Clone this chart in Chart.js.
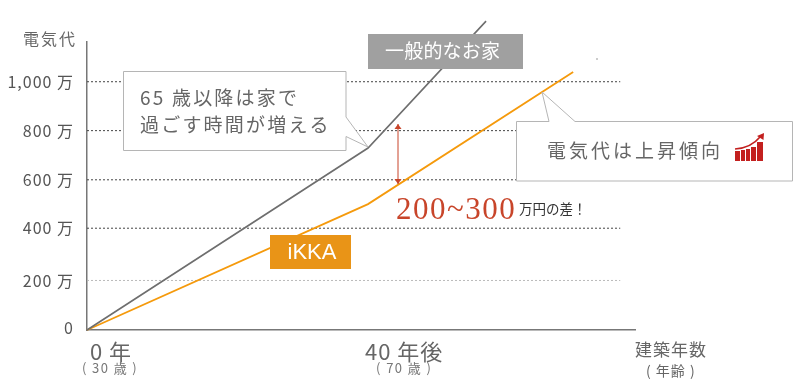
<!DOCTYPE html>
<html>
<head>
<meta charset="utf-8">
<style>
  body { margin: 0; background: #fff; }
  canvas { display: block; }
</style>
<script src="https://cdn.jsdelivr.net/npm/chart.js@4"></script>
</head>
<body>
<canvas id="myChart" width="800" height="390"></canvas>
<script>
const FONT = '"Noto Sans CJK JP", "Noto Sans", sans-serif';

// values (x = years, y = 万円)
const generalYears = [0, 40, 56.8];
const generalCost = [0, 733, 1244];
const ikkaYears = [0, 40, 69.2];
const ikkaCost = [0, 507, 1039];

// the dotted lines in the picture are not quite evenly spaced
const gridLevels = [1000, 803, 605, 410, 199.5];
const gridColors = ['#444', '#444', '#444', '#444', '#bbb'];
const gridEnd = 75.9;

const yTickLabels = ['1,000 万', '800 万', '600 万', '400 万', '200 万', '0'];
const zeroLabelLevel = 10; // the 0 sits a little above the baseline
const xTicks = [0, 40];
const xTickLabels = [' 0 年', '40 年後'];
const xAgeLabels = ['( 30 歳 )', '( 70 歳 )'];

function text(ctx, str, x, y, size, color, spacing, family, align) {
  ctx.font = size + 'px ' + (family || FONT);
  ctx.fillStyle = color;
  ctx.letterSpacing = (spacing || 0) + 'px';
  ctx.textAlign = align || 'left';
  ctx.textBaseline = 'middle';
  ctx.fillText(str, x, y);
  ctx.letterSpacing = '0px';
}

function callout(ctx, l, t, r, b, tail) {
  ctx.beginPath();
  ctx.moveTo(l, t);
  if (tail.side === 'top') {
    ctx.lineTo(tail.a, t);
    ctx.lineTo(tail.x, tail.y);
    ctx.lineTo(tail.b, t);
  }
  ctx.lineTo(r, t);
  if (tail.side === 'right') {
    ctx.lineTo(r, tail.a);
    ctx.lineTo(tail.x, tail.y);
    ctx.lineTo(r, tail.b);
  }
  ctx.lineTo(r, b);
  ctx.lineTo(l, b);
  ctx.closePath();
  ctx.fillStyle = '#fff';
  ctx.fill();
  ctx.strokeStyle = '#b5b5b5';
  ctx.lineWidth = 1;
  ctx.stroke();
}

function riseIcon(ctx) {
  ctx.fillStyle = '#c3201f';
  const bars = [[735, 151, 5], [741, 150, 4], [746, 149, 4], [751, 147, 5], [757, 142, 6]];
  bars.forEach(b => ctx.fillRect(b[0], b[1], b[2], 161 - b[1]));
  ctx.strokeStyle = '#c3201f';
  ctx.lineWidth = 1.6;
  ctx.beginPath();
  ctx.moveTo(735, 149);
  ctx.quadraticCurveTo(751, 148, 760, 137);
  ctx.stroke();
  ctx.beginPath();
  ctx.moveTo(764, 133);
  ctx.lineTo(763.5, 140);
  ctx.lineTo(757, 136);
  ctx.closePath();
  ctx.fill();
}

// callouts and labels that sit on top of the lines
const notes = {
  id: 'notes',
  beforeDraw(chart) {
    chart.ctx.letterSpacing = '1px';
  },
  afterDraw(chart) {
    const ctx = chart.ctx;
    const x = chart.scales.x, y = chart.scales.y;
    ctx.save();

    text(ctx, '電気代', 23, 39, 16, '#666', 2);

    // 65 歳 callout points at the knee of the grey line
    callout(ctx, 123.5, 71.5, 346, 150.5, {
      side: 'right', a: 117, b: 136.5,
      x: x.getPixelForValue(generalYears[1]), y: y.getPixelForValue(generalCost[1]) - 1
    });
    text(ctx, '65 歳以降は家で', 140, 98, 19, '#666', 2.2);
    text(ctx, '過ごす時間が増える', 140, 125, 19, '#666', 2.2);

    // grey label
    ctx.fillStyle = '#a0a0a0';
    ctx.fillRect(368, 34, 155, 35);
    text(ctx, '一般的なお家', 385, 51, 19, '#fff', 0.2);

    // orange label
    ctx.fillStyle = '#e99417';
    ctx.fillRect(270, 235, 81, 34);
    text(ctx, 'iKKA', 312, 253, 22, '#fff', 0, '"Liberation Sans", Arial, sans-serif', 'center');

    // rising costs callout
    callout(ctx, 516.5, 121.5, 792.5, 181, { side: 'top', a: 549, b: 575, x: 542, y: 92 });
    text(ctx, '電気代は上昇傾向', 547, 151, 19, '#666', 3);
    riseIcon(ctx);

    // gap arrow between the two lines
    const ax = 398, top = 124, bottom = 184;
    ctx.strokeStyle = '#c8452a';
    ctx.fillStyle = '#c8452a';
    ctx.lineWidth = 1;
    ctx.beginPath();
    ctx.moveTo(ax, top);
    ctx.lineTo(ax, bottom);
    ctx.stroke();
    [[top, 1], [bottom, -1]].forEach(h => {
      ctx.beginPath();
      ctx.moveTo(ax, h[0]);
      ctx.lineTo(ax - 3.5, h[0] + h[1] * 5);
      ctx.lineTo(ax + 3.5, h[0] + h[1] * 5);
      ctx.closePath();
      ctx.fill();
    });

    text(ctx, '200~300', 396, 211, 31, '#c8452a', 1.5, '"Liberation Serif", serif');
    text(ctx, '万円の差！', 519, 209, 13.5, '#333', 0);

    // ages under the year ticks
    xAgeLabels.forEach((label, i) => {
      const left = i === 0 ? -5 : 8;
      text(ctx, label, x.getPixelForValue(xTicks[i]) + left, 368, 13, '#777', 1.4);
    });
    text(ctx, '建築年数', 635, 350, 17, '#666', 1);
    text(ctx, '( 年齢 )', 646, 371, 14, '#666', 1);

    ctx.fillStyle = '#ccc';
    ctx.fillRect(596, 58, 2, 2);
    ctx.restore();
  }
};

const datasets = [
  {
    data: generalYears.map((v, i) => ({ x: v, y: generalCost[i] })),
    borderColor: '#6e6e6e', borderWidth: 1.6, clip: false
  },
  {
    data: ikkaYears.map((v, i) => ({ x: v, y: ikkaCost[i] })),
    borderColor: '#f59a0c', borderWidth: 1.8, clip: false
  }
];
gridLevels.forEach((level, i) => {
  datasets.push({
    data: [{ x: 0, y: level }, { x: gridEnd, y: level }],
    borderColor: gridColors[i], borderWidth: 1, borderDash: [2, 2]
  });
});

new Chart(document.getElementById('myChart').getContext('2d'), {
  type: 'line',
  data: { datasets: datasets },
  plugins: [notes],
  options: {
    responsive: false,
    animation: false,
    elements: { point: { radius: 0 }, line: { tension: 0 } },
    layout: { padding: { top: 42, right: 165, left: 0, bottom: 0 } },
    plugins: { legend: { display: false }, tooltip: { enabled: false } },
    scales: {
      x: {
        type: 'linear',
        min: 0,
        max: 78,
        grid: { display: false },
        border: { color: '#777', width: 1.5 },
        afterBuildTicks(scale) { scale.ticks = xTicks.map(v => ({ value: v })); },
        afterFit(scale) { scale.height = 60; },
        ticks: {
          align: 'start',
          labelOffset: -3,
          padding: 0,
          maxRotation: 0,
          autoSkip: false,
          color: '#666',
          font: { family: FONT, size: 22 },
          callback: (v, i) => xTickLabels[i]
        }
      },
      y: {
        min: 0,
        max: 1160,
        grid: { display: false },
        border: { color: '#777', width: 1.5 },
        afterBuildTicks(scale) {
          scale.ticks = gridLevels.concat([zeroLabelLevel]).map(v => ({ value: v }));
        },
        afterFit(scale) { scale.width = 87; },
        ticks: {
          padding: 5,
          autoSkip: false,
          color: '#555',
          font: { family: FONT, size: 16 },
          callback: (v, i) => yTickLabels[i]
        }
      }
    }
  }
});
</script>
</body>
</html>
